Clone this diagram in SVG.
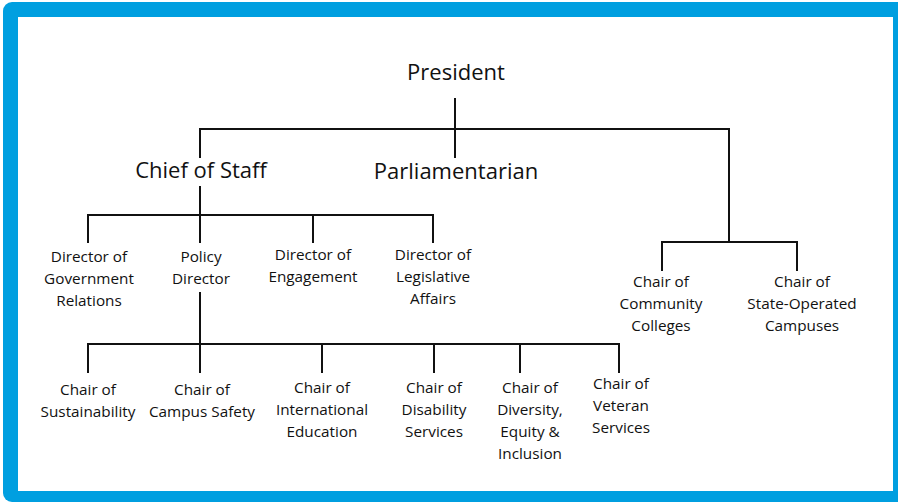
<svg xmlns="http://www.w3.org/2000/svg" width="898" height="503" viewBox="0 0 898 503">
<style>
.t{font-family:"Open Sans","Noto Sans",sans-serif;fill:#111;text-anchor:middle}
.big{font-size:22px}
.sm{font-size:15.3px}
.ln{stroke:#111;stroke-width:2;fill:none}
</style>
<rect x="3" y="2" width="910" height="500" rx="9" fill="#009FE0"/>
<rect x="18" y="17" width="875" height="474" fill="#fff"/>
<g id="connectors" class="ln">
<path d="M455 98V158M200 158V129H729V242"/>
<path d="M200 186V243M88 243V215H433V243M313 215V243"/>
<path d="M200 292V373M88 373V344H619V373M322 344V373M434 344V373M520 344V373"/>
<path d="M662 271V242H797V271"/>
</g>
<g id="president"><text class="t big" x="456" y="80">President</text></g>
<g id="chief-of-staff"><text class="t big" x="201" y="178">Chief of Staff</text></g>
<g id="parliamentarian"><text class="t big" x="456" y="179">Parliamentarian</text></g>
<g id="dir-gov"><text class="t sm" x="89" y="262">Director of<tspan x="89" dy="22">Government</tspan><tspan x="89" dy="22">Relations</tspan></text></g>
<g id="policy-dir"><text class="t sm" x="201" y="262">Policy<tspan x="201" dy="22">Director</tspan></text></g>
<g id="dir-eng"><text class="t sm" x="313" y="260">Director of<tspan x="313" dy="22">Engagement</tspan></text></g>
<g id="dir-leg"><text class="t sm" x="433" y="260">Director of<tspan x="433" dy="22">Legislative</tspan><tspan x="433" dy="22">Affairs</tspan></text></g>
<g id="chair-cc"><text class="t sm" x="661" y="287">Chair of<tspan x="661" dy="22">Community</tspan><tspan x="661" dy="22">Colleges</tspan></text></g>
<g id="chair-soc"><text class="t sm" x="802" y="287">Chair of<tspan x="802" dy="22">State-Operated</tspan><tspan x="802" dy="22">Campuses</tspan></text></g>
<g id="chair-sus"><text class="t sm" x="88" y="395">Chair of<tspan x="88" dy="22">Sustainability</tspan></text></g>
<g id="chair-cs"><text class="t sm" x="202" y="395">Chair of<tspan x="202" dy="22">Campus Safety</tspan></text></g>
<g id="chair-ie"><text class="t sm" x="322" y="393">Chair of<tspan x="322" dy="22">International</tspan><tspan x="322" dy="22">Education</tspan></text></g>
<g id="chair-ds"><text class="t sm" x="434" y="393">Chair of<tspan x="434" dy="22">Disability</tspan><tspan x="434" dy="22">Services</tspan></text></g>
<g id="chair-dei"><text class="t sm" x="530" y="393">Chair of<tspan x="530" dy="22">Diversity,</tspan><tspan x="530" dy="22">Equity &amp;</tspan><tspan x="530" dy="22">Inclusion</tspan></text></g>
<g id="chair-vs"><text class="t sm" x="621" y="389">Chair of<tspan x="621" dy="22">Veteran</tspan><tspan x="621" dy="22">Services</tspan></text></g>
</svg>
